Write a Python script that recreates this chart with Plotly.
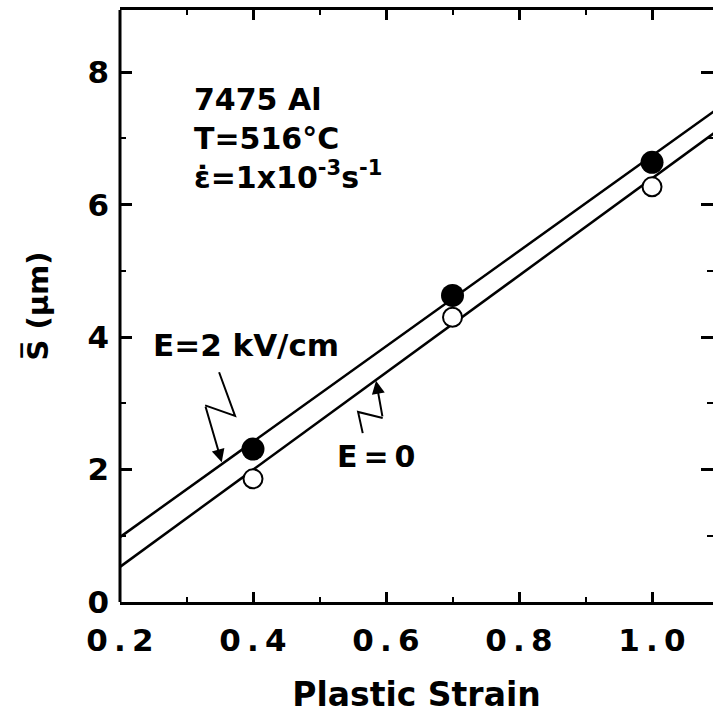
import plotly.graph_objects as go

# Measured mean spacing vs plastic strain (7475 Al, 516 °C)
strain = [0.4, 0.7, 1.0]
s_field = [2.31, 4.63, 6.64]     # E = 2 kV/cm (filled)
s_nofield = [1.86, 4.30, 6.27]   # E = 0 (open)

# Straight-line fits, evaluated at the ends of the strain axis
fit_strain = [0.2, 1.1]
fit_field = [0.98, 7.46]
fit_nofield = [0.53, 7.13]

# Tick labels
x_ticks = [0.2, 0.4, 0.6, 0.8, 1.0]
x_ticktext = ["0\u2009.\u20092", "0\u2009.\u20094", "0\u2009.\u20096", "0\u2009.\u20098", "1\u2009.\u20090"]
y_ticks = [0, 2, 4, 6, 8]

# Zig-zag leaders pointing at each fit line (last point is the arrow tip)
lead_field_x = [0.349, 0.373, 0.328, 0.353]
lead_field_y = [3.47, 2.81, 2.97, 2.11]
lead_nofield_x = [0.565, 0.558, 0.595, 0.585]
lead_nofield_y = [2.55, 2.87, 2.78, 3.34]

FONT = "DejaVu Sans"

fig = go.Figure()

fig.add_trace(go.Scatter(x=fit_strain, y=fit_field, mode="lines",
                         line=dict(color="black", width=2.5), hoverinfo="skip"))
fig.add_trace(go.Scatter(x=fit_strain, y=fit_nofield, mode="lines",
                         line=dict(color="black", width=2.5), hoverinfo="skip"))
fig.add_trace(go.Scatter(x=strain, y=s_nofield, mode="markers",
                         marker=dict(symbol="circle", size=19, color="white",
                                     line=dict(color="black", width=2))))
fig.add_trace(go.Scatter(x=strain, y=s_field, mode="markers",
                         marker=dict(symbol="circle", size=23, color="black",
                                     line=dict(color="black", width=0))))


def leader_path(xs, ys):
    pts = " L ".join(f"{x},{y}" for x, y in zip(xs[:-1], ys[:-1]))
    return "M " + pts


shapes = [
    dict(type="path", xref="x", yref="y", path=leader_path(lead_field_x, lead_field_y),
         line=dict(color="black", width=2)),
    dict(type="path", xref="x", yref="y", path=leader_path(lead_nofield_x, lead_nofield_y),
         line=dict(color="black", width=2)),
    # left spine
    dict(type="line", xref="paper", yref="paper", x0=0, x1=0, y0=0, y1=1,
         line=dict(color="black", width=3)),
]

annotations = [
    dict(x=0.308, y=7.88, xref="x", yref="y", xanchor="left", yanchor="top",
         align="left", showarrow=False,
         text="7475 Al<br>T=516°C<br>\u03b5\u0307=1x10<sup>-3</sup>s<sup>-1</sup>",
         font=dict(family=FONT, size=30, weight="bold", color="black")),
    dict(x=0.389, y=3.88, xref="x", yref="y", showarrow=False,
         text="E=2 kV/cm",
         font=dict(family=FONT, size=31, weight="bold", color="black")),
    dict(x=0.585, y=2.19, xref="x", yref="y", showarrow=False,
         text="E\u2009=\u20090",
         font=dict(family=FONT, size=30, weight="bold", color="black")),
    dict(x=lead_field_x[-1], y=lead_field_y[-1], ax=lead_field_x[-2], ay=lead_field_y[-2],
         xref="x", yref="y", axref="x", ayref="y", text="", showarrow=True,
         arrowhead=2, arrowsize=1.3, arrowwidth=2, arrowcolor="black"),
    dict(x=lead_nofield_x[-1], y=lead_nofield_y[-1], ax=lead_nofield_x[-2], ay=lead_nofield_y[-2],
         xref="x", yref="y", axref="x", ayref="y", text="", showarrow=True,
         arrowhead=2, arrowsize=1.3, arrowwidth=2, arrowcolor="black"),
]

fig.update_layout(
    width=713, height=714,
    margin=dict(l=120, r=0, t=10, b=112),
    plot_bgcolor="white", paper_bgcolor="white",
    showlegend=False,
    font=dict(family=FONT, color="black"),
    shapes=shapes,
    annotations=annotations,
)

fig.update_xaxes(
    range=[0.2, 1.0917],
    tickvals=x_ticks, ticktext=x_ticktext,
    ticks="inside", ticklen=10, tickwidth=2.5, tickcolor="black",
    minor=dict(ticks="inside", ticklen=5, tickwidth=2, tickcolor="black",
               tick0=0.3, dtick=0.2),
    showline=True, linewidth=3, linecolor="black", mirror="ticks",
    showgrid=False, zeroline=False,
    ticklabelstandoff=9,
    tickfont=dict(family=FONT, size=31, weight="bold", color="black"),
    title=dict(text="Plastic Strain", standoff=28,
               font=dict(family=FONT, size=33, weight="bold", color="black")),
)

fig.update_yaxes(
    range=[0, 8.94],
    tickvals=y_ticks,
    ticks="inside", ticklen=12, tickwidth=2.5, tickcolor="black",
    minor=dict(ticks="inside", ticklen=6, tickwidth=2, tickcolor="black",
               tick0=1, dtick=2),
    showline=False, mirror="ticks",
    showgrid=False, zeroline=False,
    ticklabelstandoff=10,
    tickfont=dict(family=FONT, size=31, weight="bold", color="black"),
    title=dict(text="S\u0305 (\u03bcm)", standoff=30,
               font=dict(family=FONT, size=29, weight="bold", color="black")),
)

fig.write_html("out.html")
